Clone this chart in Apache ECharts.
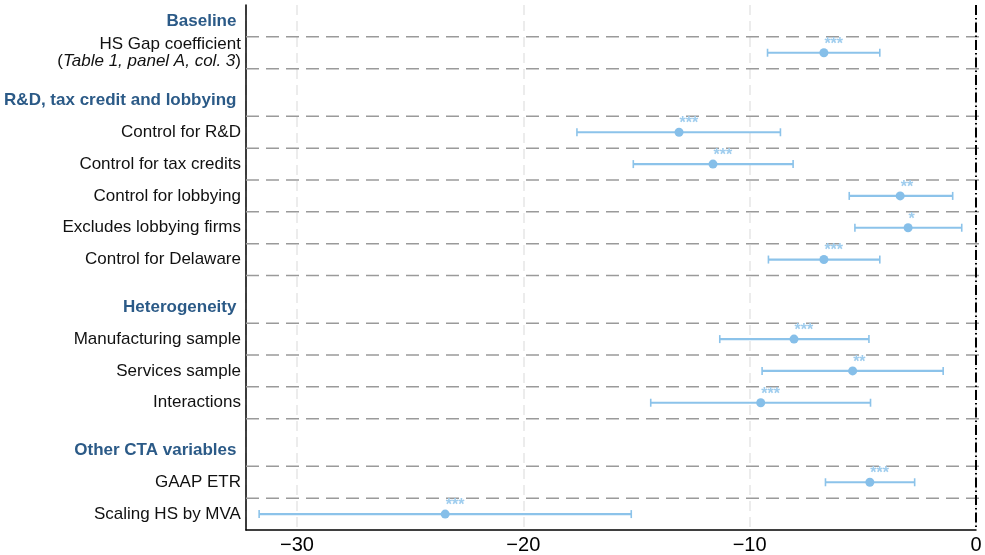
<!DOCTYPE html>
<html>
<head>
<meta charset="utf-8">
<style>
  html, body { margin: 0; padding: 0; background: #fff; }
  #chart { width: 985px; height: 555px; }
</style>
<script src="https://cdn.jsdelivr.net/npm/echarts@6/dist/echarts.min.js"></script>
</head>
<body>
<div id="chart"></div>
<script>
  // row labels, position in "rows" from the top
  const rowLabels = [
    'HS Gap coefficient\n({it|Table 1, panel A, col. 3})',
    'Control for R&D',
    'Control for tax credits',
    'Control for lobbying',
    'Excludes lobbying firms',
    'Control for Delaware',
    'Manufacturing sample',
    'Services sample',
    'Interactions',
    'GAAP ETR',
    'Scaling HS by MVA'
  ];
  const rowPos = [1.5, 4, 5, 6, 7, 8, 10.5, 11.5, 12.5, 15, 16];
  const coef   = [-6.72, -13.12, -11.62, -3.35, -3.00, -6.72, -8.04, -5.45, -9.51, -4.69, -23.45];
  const ciLow  = [-9.21, -17.63, -15.14, -5.60, -5.35, -9.17, -11.32, -9.45, -14.37, -6.65, -31.67];
  const ciHigh = [-4.25, -8.64, -8.08, -1.03, -0.63, -4.25, -4.73, -1.45, -4.66, -2.71, -15.23];
  const stars  = ['***', '***', '***', '**', '*', '***', '***', '**', '***', '***', '***'];

  // group headers
  const groupLabels = ['Baseline', 'R&D, tax credit and lobbying', 'Heterogeneity', 'Other CTA variables'];
  const groupPos = [0.5, 3, 9.5, 14];

  // dashed separators between rows
  const sepPos = [1, 2, 3.5, 4.5, 5.5, 6.5, 7.5, 8.5, 10, 11, 12, 13, 14.5, 15.5];

  const X_MIN = -32.25;
  const FONT = 'Liberation Sans, Arial, Helvetica, sans-serif';
  const BLUE = '#86bfe9';

  const chart = echarts.init(document.getElementById('chart'));

  const option = {
    animation: false,
    grid: { left: 246, right: 9, top: 5, bottom: 25 },
    xAxis: {
      type: 'value',
      min: X_MIN,
      max: 0,
      splitNumber: 3,
      axisLine: { show: true, onZero: false, lineStyle: { color: '#000', width: 1.5 } },
      axisTick: { show: false },
      axisLabel: {
        showMinLabel: false,
        fontSize: 20,
        color: '#000',
        margin: 5,
        fontFamily: FONT,
        formatter: v => (v < 0 ? '\u2212' + (-v) : '' + v)
      },
      splitLine: { show: true, lineStyle: { color: '#e6e6e6', width: 1.5, type: [10, 6] } }
    },
    yAxis: {
      type: 'value',
      inverse: true,
      min: 0,
      max: 16.5,
      axisLine: { show: true, onZero: false, lineStyle: { color: '#000', width: 1.5 } },
      axisTick: { show: false },
      axisLabel: { show: false },
      splitLine: { show: false }
    },
    series: [
      // separators
      {
        type: 'custom',
        silent: true,
        clip: false,
        z: 1,
        data: sepPos.map(v => [X_MIN, v]),
        encode: { x: 0, y: 1 },
        renderItem: (params, api) => {
          const p = api.coord([api.value(0), api.value(1)]);
          return {
            type: 'line',
            shape: { x1: p[0], y1: p[1], x2: api.getWidth(), y2: p[1] },
            style: { stroke: '#9a9a9a', lineWidth: 1.5, lineDash: [13, 7] }
          };
        }
      },
      // zero line
      {
        type: 'custom',
        silent: true,
        z: 2,
        data: [[0, 0, 16.5]],
        encode: { x: 0, y: [1, 2] },
        renderItem: (params, api) => {
          const a = api.coord([api.value(0), api.value(1)]);
          const b = api.coord([api.value(0), api.value(2)]);
          return {
            type: 'line',
            shape: { x1: a[0], y1: a[1], x2: b[0], y2: b[1] },
            style: { stroke: '#000', lineWidth: 2, lineDash: [10, 3, 1.5, 3] }
          };
        }
      },
      // confidence intervals
      {
        type: 'custom',
        silent: true,
        z: 3,
        data: rowPos.map((y, i) => [ciLow[i], ciHigh[i], y]),
        encode: { x: [0, 1], y: 2 },
        renderItem: (params, api) => {
          const lo = api.coord([api.value(0), api.value(2)]);
          const hi = api.coord([api.value(1), api.value(2)]);
          const cap = 4;
          return {
            type: 'group',
            children: [
              { type: 'line', shape: { x1: lo[0], y1: lo[1], x2: hi[0], y2: hi[1] }, style: { stroke: '#8cc3ea', lineWidth: 2.2 } },
              { type: 'line', shape: { x1: lo[0], y1: lo[1] - cap, x2: lo[0], y2: lo[1] + cap }, style: { stroke: '#8cc3ea', lineWidth: 1.6 } },
              { type: 'line', shape: { x1: hi[0], y1: hi[1] - cap, x2: hi[0], y2: hi[1] + cap }, style: { stroke: '#8cc3ea', lineWidth: 1.6 } }
            ]
          };
        }
      },
      // point estimates with stars
      {
        type: 'scatter',
        silent: true,
        z: 4,
        symbolSize: 9,
        itemStyle: { color: BLUE, opacity: 1 },
        data: rowPos.map((y, i) => [coef[i], y, stars[i]]),
        label: {
          show: true,
          formatter: p => p.data[2],
          position: [5, -4],
          align: 'left',
          verticalAlign: 'middle',
          fontSize: 16,
          fontWeight: 'bold',
          color: '#9fcdee',
          fontFamily: FONT
        }
      },
      // row labels
      {
        type: 'scatter',
        silent: true,
        clip: false,
        symbolSize: 0.1,
        itemStyle: { color: 'rgba(0,0,0,0)', opacity: 1 },
        data: rowPos.map((y, i) => [X_MIN, y, rowLabels[i]]),
        label: {
          show: true,
          position: 'left',
          distance: 5,
          align: 'right',
          formatter: p => p.data[2],
          fontSize: 17,
          lineHeight: 17.5,
          color: '#111',
          fontFamily: FONT,
          rich: {
            it: { fontStyle: 'italic', fontSize: 17, lineHeight: 17.5, color: '#111', fontFamily: FONT }
          }
        }
      },
      // group headers
      {
        type: 'scatter',
        silent: true,
        clip: false,
        symbolSize: 0.1,
        itemStyle: { color: 'rgba(0,0,0,0)', opacity: 1 },
        data: groupPos.map((y, i) => [X_MIN, y, groupLabels[i]]),
        label: {
          show: true,
          position: 'left',
          distance: 9.5,
          align: 'right',
          formatter: p => p.data[2],
          fontSize: 17,
          fontWeight: 'bold',
          color: '#2b5a87',
          fontFamily: FONT
        }
      }
    ]
  };

  chart.setOption(option);
</script>
</body>
</html>
